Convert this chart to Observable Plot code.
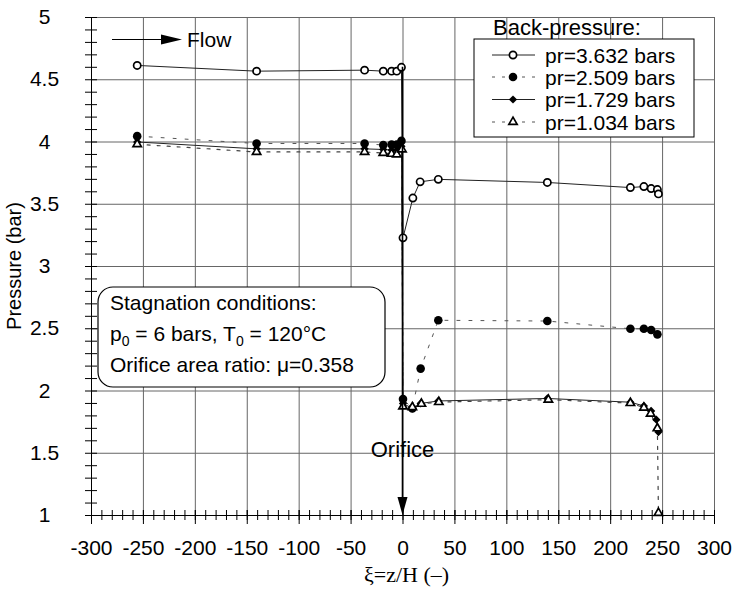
<!DOCTYPE html>
<html>
<head>
<meta charset="utf-8">
<script src="https://cdn.jsdelivr.net/npm/d3@7"></script>
<script src="https://cdn.jsdelivr.net/npm/@observablehq/plot@0.6"></script>
<style>
  html, body { margin: 0; padding: 0; background: #fff; }
  #chart { width: 733px; height: 602px; }
</style>
</head>
<body>
<div id="chart"></div>
<script>
// Axis ticks
const xTicks = d3.range(-300, 301, 50);
const xMinor = d3.range(-300, 301, 10);
const yTicks = [1, 1.5, 2, 2.5, 3, 3.5, 4, 4.5, 5];
const yMinor = d3.range(10, 51).map(d => d / 10);

// Back-pressure pr = 3.632 bars (open circles)
const xA = [-256, -141, -37, -19, -11, -6, -1.5, 0, 9.5, 16.5, 34, 139, 219, 232, 239, 245, 246];
const yA = [4.615, 4.569, 4.577, 4.569, 4.569, 4.569, 4.60, 3.23, 3.55, 3.68, 3.70, 3.675, 3.634, 3.642, 3.626, 3.618, 3.583];

// Back-pressure pr = 2.509 bars (filled circles)
const xB = [-256, -141, -37, -19, -11, -6, -1.5, 0, 9, 17, 34, 139, 219, 232, 239, 245];
const yB = [4.047, 3.988, 3.988, 3.975, 3.98, 3.98, 4.009, 1.935, 1.86, 2.18, 2.568, 2.562, 2.50, 2.50, 2.49, 2.455];

// Back-pressure pr = 1.729 bars (filled diamonds)
const xC = [-256, -141, -37, -19, -11, -6, -1.5, 0, 9, 17, 34, 139, 219, 232, 239, 244, 246];
const yC = [4.00, 3.945, 3.945, 3.94, 3.935, 3.935, 3.965, 1.90, 1.86, 1.90, 1.92, 1.94, 1.91, 1.88, 1.84, 1.77, 1.67];

// Back-pressure pr = 1.034 bars (open triangles)
const xD = [-256, -141, -37, -19, -11, -6, -1, 0, 9, 17.7, 34.5, 140, 219, 232, 238.5, 245, 246];
const yD = [3.982, 3.92, 3.92, 3.912, 3.905, 3.90, 3.94, 1.875, 1.87, 1.897, 1.911, 1.93, 1.903, 1.866, 1.818, 1.70, 1.02];

const seriesLabels = ["pr=3.632 bars", "pr=2.509 bars", "pr=1.729 bars", "pr=1.034 bars"];
const legendTitle = "Back-pressure:";
const boxLines = ["Stagnation conditions:", "p0 = 6 bars, T0 = 120°C", "Orifice area ratio: μ=0.358"];

const rows = (xs, ys) => xs.map((x, i) => ({x, y: ys[i]}));
const A = rows(xA, yA), B = rows(xB, yB), C = rows(xC, yC), D = rows(xD, yD);

const sans = "'Liberation Sans', Arial, Helvetica, sans-serif";
const gridColor = "#666";

// marker sizes shared by the plot and the legend
const rOpen = 3.6, rFilled = 4.3, rDiamond = 3.7, rTriangle = 3.1;

const chart = Plot.plot({
  width: 733,
  height: 602,
  marginLeft: 91,
  marginRight: 19,
  marginTop: 17,
  marginBottom: 87,
  x: {domain: [-300, 300]},
  y: {domain: [1, 5]},
  style: {fontFamily: sans, fontSize: "21px", background: "white", color: "black", overflow: "visible"},
  marks: [
    // grid
    Plot.ruleX(xTicks, {stroke: gridColor, strokeWidth: 1}),
    Plot.ruleY(yTicks, {stroke: gridColor, strokeWidth: 1}),
    Plot.ruleX([-300], {stroke: "black", strokeWidth: 1}),
    Plot.ruleY([1], {stroke: "black", strokeWidth: 1}),
    // x axis: ticks cross the axis line
    Plot.axisX({ticks: xMinor, tickSize: 10, dy: -5, tickFormat: () => "", label: null, stroke: "black"}),
    Plot.axisX({ticks: xTicks, tickSize: 14, dy: -5, tickFormat: () => "", label: null, stroke: "black"}),
    Plot.axisX({ticks: xTicks, tickSize: 0, tickPadding: 25, tickFormat: d => String(d), label: null, fontSize: 21}),
    // y axis
    Plot.axisY({ticks: yMinor, tickSize: 12, dx: 6, tickFormat: () => "", label: null, stroke: "black"}),
    Plot.axisY({ticks: yTicks, tickSize: 0, tickPadding: 47, textAnchor: "middle", tickFormat: d => String(d), label: null, fontSize: 21}),
    // connecting lines
    Plot.line(A, {x: "x", y: "y", stroke: "#222", strokeWidth: 1}),
    Plot.line(B, {x: "x", y: "y", stroke: "#555", strokeWidth: 1, strokeDasharray: "3,9"}),
    Plot.line(C, {x: "x", y: "y", stroke: "#222", strokeWidth: 1}),
    Plot.line(D, {x: "x", y: "y", stroke: "#444", strokeWidth: 1.2, strokeDasharray: "3,7"}),
    // markers
    Plot.dot(A, {x: "x", y: "y", r: rOpen, fill: "white", stroke: "black", strokeWidth: 1.7}),
    Plot.dot(B, {x: "x", y: "y", r: rFilled, fill: "black", stroke: "none"}),
    Plot.dot(C, {x: "x", y: "y", symbol: "diamond2", r: rDiamond, fill: "black", stroke: "none"}),
    Plot.dot(D, {x: "x", y: "y", symbol: "triangle", r: rTriangle, fill: "white", stroke: "black", strokeWidth: 1.7})
  ]
});

document.getElementById("chart").appendChild(chart);

const svg = d3.select(chart);
const sx = chart.scale("x"), sy = chart.scale("y");
const ann = svg.append("g").attr("font-family", sans).attr("fill", "black").attr("text-anchor", "start");

// Orifice arrow
const x0 = sx.apply(0), yTop = sy.apply(4.6), yBot = sy.apply(1);
ann.append("line").attr("x1", x0).attr("x2", x0).attr("y1", yTop).attr("y2", yBot - 14)
  .attr("stroke", "black").attr("stroke-width", 1.6);
ann.append("path").attr("d", `M${x0 - 5},${yBot - 18}L${x0 + 5},${yBot - 18}L${x0},${yBot}Z`).attr("fill", "black");
ann.append("text").attr("x", x0).attr("y", 457).attr("text-anchor", "middle").attr("font-size", 22).text("Orifice");

// Flow arrow
ann.append("line").attr("x1", 112).attr("x2", 165).attr("y1", 39.5).attr("y2", 39.5).attr("stroke", "black").attr("stroke-width", 1);
ann.append("path").attr("d", "M161,34.5L161,44.5L182,39.5Z").attr("fill", "black");
ann.append("text").attr("x", 187).attr("y", 47).attr("font-size", 21).text("Flow");

// Axis titles
ann.append("text").attr("transform", "translate(21,266) rotate(-90)").attr("text-anchor", "middle")
  .attr("font-size", 20).text("Pressure (bar)");
ann.append("text").attr("x", x0 + 4).attr("y", 582).attr("text-anchor", "middle")
  .attr("font-family", "'Liberation Serif', 'Times New Roman', serif").attr("font-size", 22).text("ξ=z/H (–)");

// Stagnation conditions box
ann.append("rect").attr("x", 98).attr("y", 287).attr("width", 287).attr("height", 100).attr("rx", 15)
  .attr("fill", "white").attr("stroke", "black").attr("stroke-width", 1.2);
ann.append("text").attr("x", 110).attr("y", 310).attr("font-size", 21).text(boxLines[0]);
const t2 = ann.append("text").attr("x", 110).attr("y", 341).attr("font-size", 21);
t2.append("tspan").text("p");
t2.append("tspan").attr("dy", 5).attr("font-size", 14).text("0");
t2.append("tspan").attr("dy", -5).text(" = 6 bars, T");
t2.append("tspan").attr("dy", 5).attr("font-size", 14).text("0");
t2.append("tspan").attr("dy", -5).text(" = 120°C");
ann.append("text").attr("x", 110).attr("y", 372).attr("font-size", 21).text(boxLines[2]);

// Legend
ann.append("text").attr("x", 493).attr("y", 35).attr("font-size", 22).text(legendTitle);
ann.append("rect").attr("x", 474).attr("y", 39).attr("width", 220).attr("height", 98)
  .attr("fill", "white").attr("stroke", "black").attr("stroke-width", 1);
const rowY = [55, 77, 99.5, 122];
const legendStyles = [
  {dash: null, color: "#222"},
  {dash: "3,7", color: "#555"},
  {dash: null, color: "#222"},
  {dash: "3,7", color: "#555"}
];
rowY.forEach((y, i) => {
  ann.append("line").attr("x1", 492).attr("x2", 535).attr("y1", y).attr("y2", y)
    .attr("stroke", legendStyles[i].color).attr("stroke-width", 1)
    .attr("stroke-dasharray", legendStyles[i].dash);
  const cx = 513;
  if (i === 0) {
    ann.append("circle").attr("cx", cx).attr("cy", y).attr("r", rOpen).attr("fill", "white").attr("stroke", "black").attr("stroke-width", 1.7);
  } else if (i === 1) {
    ann.append("circle").attr("cx", cx).attr("cy", y).attr("r", rFilled).attr("fill", "black");
  } else if (i === 2) {
    ann.append("path").attr("transform", `translate(${cx},${y})`).attr("d", d3.symbol(d3.symbolDiamond2, Math.PI * rDiamond * rDiamond)()).attr("fill", "black");
  } else {
    ann.append("path").attr("transform", `translate(${cx},${y})`).attr("d", d3.symbol(d3.symbolTriangle, Math.PI * rTriangle * rTriangle)())
      .attr("fill", "white").attr("stroke", "black").attr("stroke-width", 1.7);
  }
  ann.append("text").attr("x", 545).attr("y", y + 7.5).attr("font-size", 21).text(seriesLabels[i]);
});
</script>
</body>
</html>
